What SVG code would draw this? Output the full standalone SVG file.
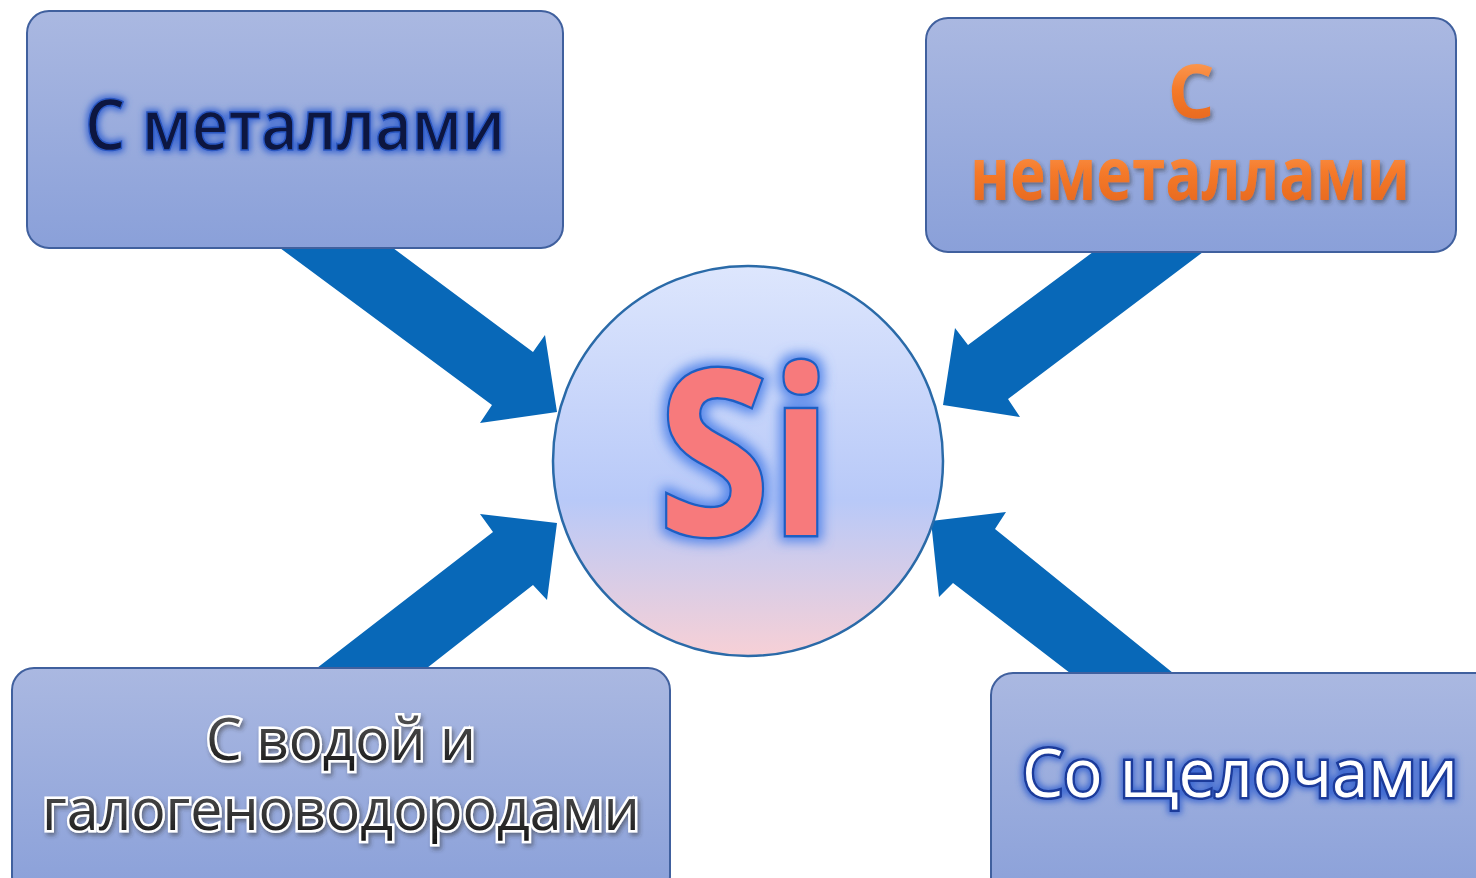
<svg xmlns="http://www.w3.org/2000/svg" width="1476" height="878" viewBox="0 0 1476 878">
<defs>
<linearGradient id="boxg" x1="0" y1="0" x2="0" y2="1">
<stop offset="0" stop-color="#aab8e1"/>
<stop offset="1" stop-color="#8aa0d9"/>
</linearGradient>
<linearGradient id="circg" x1="0" y1="0" x2="0" y2="1">
<stop offset="0" stop-color="#dde6fd"/>
<stop offset="0.6" stop-color="#b8c9f8"/>
<stop offset="1" stop-color="#f7d0d6"/>
</linearGradient>
<linearGradient id="orangeg" x1="0" y1="0" x2="0" y2="1">
<stop offset="0" stop-color="#ffb070"/>
<stop offset="0.5" stop-color="#f57a2a"/>
<stop offset="1" stop-color="#e0601a"/>
</linearGradient>
<linearGradient id="grayg" x1="0" y1="0" x2="0" y2="1">
<stop offset="0" stop-color="#666"/>
<stop offset="1" stop-color="#111"/>
</linearGradient>
<filter id="glow" x="-20%" y="-20%" width="140%" height="140%">
<feMorphology in="SourceAlpha" operator="dilate" radius="4" result="d"/>
<feGaussianBlur in="d" stdDeviation="6" result="b"/>
<feFlood flood-color="#4a7fe8" flood-opacity="0.9"/>
<feComposite in2="b" operator="in" result="g"/>
<feMerge><feMergeNode in="g"/><feMergeNode in="SourceGraphic"/></feMerge>
</filter>
<filter id="glowsm" x="-10%" y="-30%" width="120%" height="160%">
<feMorphology in="SourceAlpha" operator="dilate" radius="1.5" result="d"/>
<feGaussianBlur in="d" stdDeviation="3" result="b"/>
<feFlood flood-color="#3a66d0" flood-opacity="0.95"/>
<feComposite in2="b" operator="in" result="g"/>
<feMerge><feMergeNode in="g"/><feMergeNode in="SourceGraphic"/></feMerge>
</filter>
<filter id="shadow" x="-10%" y="-30%" width="120%" height="160%">
<feGaussianBlur in="SourceAlpha" stdDeviation="2" result="b"/>
<feOffset dx="2" dy="3" in="b" result="o"/>
<feFlood flood-color="#333" flood-opacity="0.5"/>
<feComposite in2="o" operator="in" result="s"/>
<feMerge><feMergeNode in="s"/><feMergeNode in="SourceGraphic"/></feMerge>
</filter>
</defs>
<style>
.box{fill:url(#boxg);stroke:#40609e;stroke-width:2}
.arrow{fill:#0868b8}
.lbl{font-family:"Open Sans","Noto Sans","DejaVu Sans",sans-serif;text-anchor:middle}
</style>
<rect width="1476" height="878" fill="#ffffff"/>

<g id="connectors">
<polygon class="arrow" points="280,248 492,405 480,423 557,412 545,335 533,352 393,248"/>
<polygon class="arrow" points="1093,252 968,345 955,328 943,405 1020,417 1008,399 1203,252"/>
<polygon class="arrow" points="317,668 493,532 480,514 557,523 547,600 533,585 427,668"/>
<polygon class="arrow" points="1173,673 995,529 1006,512 931,521 939,597 953,583 1070,673"/>
</g>

<g id="node-metals">
<rect class="box" x="27" y="11" width="536" height="237" rx="22"/>
<text class="lbl" x="295" y="150" font-size="70" font-weight="600" fill="#0a1640" stroke="#2a56c0" stroke-width="1.5" filter="url(#glowsm)" textLength="420" lengthAdjust="spacingAndGlyphs">С металлами</text>
</g>

<g id="node-nonmetals">
<rect class="box" x="926" y="18" width="530" height="234" rx="22"/>
<text class="lbl" x="1191" y="118" font-size="74" font-weight="700" fill="url(#orangeg)" filter="url(#shadow)">С</text>
<text class="lbl" x="1190" y="200" font-size="74" font-weight="700" fill="url(#orangeg)" filter="url(#shadow)" textLength="440" lengthAdjust="spacingAndGlyphs">неметаллами</text>
</g>

<g id="node-water">
<rect class="box" x="12" y="668" width="658" height="230" rx="22"/>
<text class="lbl" x="341" y="760" font-size="59" fill="url(#grayg)" stroke="#ffffff" stroke-width="5" paint-order="stroke" filter="url(#shadow)" textLength="270" lengthAdjust="spacingAndGlyphs">С водой и</text>
<text class="lbl" x="341" y="830" font-size="59" fill="url(#grayg)" stroke="#ffffff" stroke-width="5" paint-order="stroke" filter="url(#shadow)" textLength="598" lengthAdjust="spacingAndGlyphs">галогеноводородами</text>
</g>

<g id="node-alkali">
<rect class="box" x="991" y="673" width="510" height="230" rx="22"/>
<text class="lbl" x="1240" y="797" font-size="68" fill="#ffffff" stroke="#1a3a9a" stroke-width="5" paint-order="stroke" filter="url(#glowsm)" textLength="436" lengthAdjust="spacingAndGlyphs">Со щелочами</text>
</g>

<g id="node-si">
<circle cx="748" cy="461" r="195" fill="url(#circg)" stroke="#2a6aa8" stroke-width="2.5"/>
<text class="lbl" x="745" y="535" font-size="230" font-weight="700" fill="#f77a7c" stroke="#1f5ec4" stroke-width="5" paint-order="stroke" filter="url(#glow)" textLength="174" lengthAdjust="spacingAndGlyphs">Si</text>
</g>
</svg>
